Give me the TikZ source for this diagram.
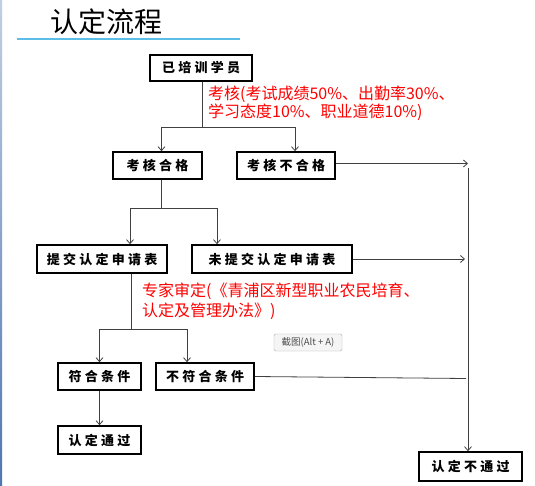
\documentclass[tikz,border=0pt]{standalone}
\usepackage{fontspec}
\usepackage{xcolor}
\usetikzlibrary{arrows.meta}
\setmainfont{Noto Sans CJK SC}
\newfontfamily\boxfont[LetterSpace=25]{Noto Sans CJK SC}
\definecolor{titleline}{HTML}{5BBDE8}
\definecolor{sidebar}{HTML}{4F76B0}
\definecolor{flowgray}{HTML}{404040}
\tikzstyle{flow-box} = [draw=black, line width=1.6pt, fill=white, rectangle,
    minimum height=27pt, inner sep=0pt,
    font=\boxfont\bfseries\fontsize{13}{13}\selectfont]
\tikzstyle{flow-line} = [draw=flowgray, line width=0.8pt]
\tikzstyle{flow-arrow} = [flow-line, -{Straight Barb[length=4pt,width=7pt]}]
\tikzstyle{flow-note} = [text=red, align=left, anchor=north west, inner sep=0pt,
    font=\fontsize{16}{17.5}\selectfont]

\begin{document}
\begin{tikzpicture}[x=1pt,y=-1pt]
\useasboundingbox[fill=white] (0,0) rectangle (535,486);
\shade[top color=sidebar!35, bottom color=sidebar] (0,0) rectangle (2,486);
\node[anchor=base west, inner sep=0pt, font=\fontsize{28}{28}\selectfont] (title) at (50,33) {认定流程};
\draw[titleline, line width=1.5pt] (17,39) -- (240,39);

\node[flow-box, minimum width=102pt, minimum height=26pt] (start) at (201,68) {已培训学员};
\node[flow-box, minimum width=89pt] (pass) at (157.5,165.5) {考核合格};
\node[flow-box, minimum width=98pt] (fail) at (286,165.5) {考核不合格};
\node[flow-box, minimum width=130pt, minimum height=28pt] (submit) at (102,259) {提交认定申请表};
\node[flow-box, minimum width=160pt, minimum height=28pt] (nosubmit) at (272,259) {未提交认定申请表};
\node[flow-box, minimum width=83pt] (ok) at (99.5,376.5) {符合条件};
\node[flow-box, minimum width=98pt] (notok) at (205,376.5) {不符合条件};
\node[flow-box, minimum width=83pt, minimum height=28pt] (approved) at (99.5,440) {认定通过};
\node[flow-box, minimum width=103pt, minimum height=29pt] (rejected) at (470.5,466.5) {认定不通过};

\node[flow-note] (exam-note) at (208,86) {考核(考试成绩50\%、出勤率30\%、\\学习态度10\%、职业道德10\%)};
\node[flow-note, font=\fontsize{16}{20}\selectfont] (review-note) at (142,283) {专家审定(《青浦区新型职业农民培育、\\认定及管理办法》)};
\node[draw=gray!60, fill=gray!8, rounded corners=1.5pt, inner sep=1pt, text=gray!60!black,
    font=\fontsize{9.5}{9.5}\selectfont, minimum width=68pt, minimum height=17pt] (tip) at (308,342.5) {截图(Alt + A)};

\coordinate (fork1) at (202,127);
\coordinate (fork2) at (161,208);
\coordinate (fork3) at (131,329);
\coordinate (rail-top) at (468,168);

\draw[flow-line] (start.south -| fork1) -- (fork1);
\draw[flow-arrow] (fork1) -| ([xshift=4pt]pass.north);
\draw[flow-arrow] (fork1) -| ([xshift=9pt]fail.north);
\draw[flow-line] (pass.south -| fork2) -- (fork2);
\draw[flow-arrow] (fork2) -| ([xshift=28pt]submit.north);
\draw[flow-arrow] (fork2) -| ([xshift=-55pt]nosubmit.north);
\draw[flow-line] (submit.south -| fork3) -- (fork3);
\draw[flow-arrow] (fork3) -| (ok.north);
\draw[flow-arrow] (fork3) -| ([xshift=-18pt]notok.north);
\draw[flow-arrow] (ok) -- (approved);

\draw[flow-arrow] ([yshift=2pt]fail.east) -- ([yshift=2pt]fail.east -| rail-top);
\draw[flow-arrow] (nosubmit.east) -- ([xshift=-3pt]nosubmit.east -| rail-top);
\draw[flow-line] (notok.east) -- ([xshift=-2pt,yshift=-2pt]notok.east -| rail-top);
\draw[flow-arrow] (rail-top) -- (rail-top |- rejected.north);
\end{tikzpicture}
\end{document}
